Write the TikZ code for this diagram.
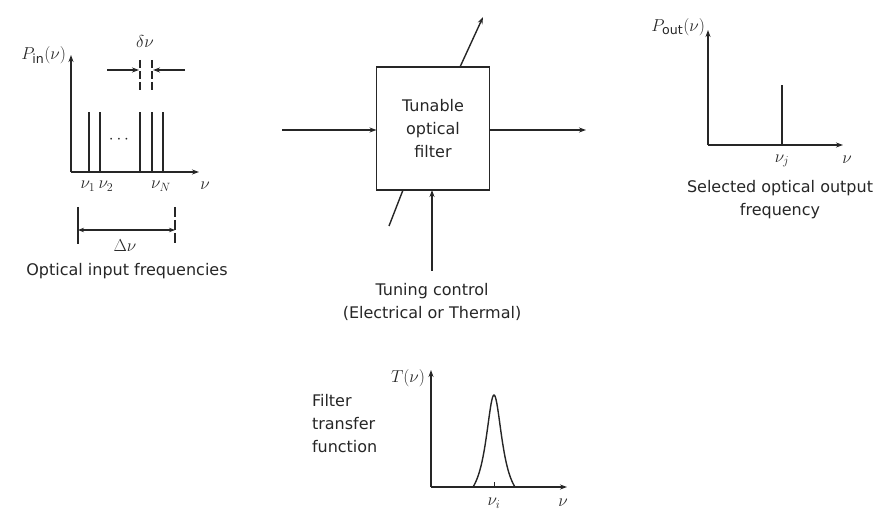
\documentclass[tikz,border=0pt]{standalone}
\usepackage{fontspec}
\setmainfont{DejaVu Sans}
\usetikzlibrary{arrows.meta}
\begin{document}
\begin{tikzpicture}[x=1pt,y=-1pt,
  every node/.style={inner sep=0pt,outer sep=0pt},
  ln/.style={line width=1.4pt,black!85},
  arr/.style={ln,-{Stealth[length=7pt,width=5pt]}},
  darr/.style={ln,{Stealth[length=6pt,width=4.5pt]}-{Stealth[length=6pt,width=4.5pt]}},
  lbl/.style={font=\fontsize{16}{22}\selectfont,text=black!85},
  mlbl/.style={font=\fontsize{18}{20}\selectfont,text=black!85},
  boxst/.style={draw,line width=1.4pt,black!85,minimum width=113pt,minimum height=123pt,align=center,font=\fontsize{16}{23}\selectfont}
]
\useasboundingbox (0,0) rectangle (885,510);

% ---------- left graph: input spectrum
\coordinate (o1) at (71,172);
\coordinate (y1) at (71,55);
\coordinate (x1) at (199,172);
\draw[arr] (o1) -- (y1);
\draw[arr] (o1) -- (x1);
\foreach \xx in {89,100,140,152,163}{
  \draw[ln] (\xx,172) -- (\xx,112);
}
\node[mlbl] (dots) at (119,140) {$\cdots$};
\node[mlbl,anchor=south east] (pin) at (66,64) {$P_{\mathrm{in}}(\nu)$};
% delta nu marker
\coordinate (dl0) at (107,70); \coordinate (dl1) at (139,70);
\coordinate (dr0) at (185,70); \coordinate (dr1) at (153,70);
\draw[arr] (dl0) -- (dl1);
\draw[arr] (dr0) -- (dr1);
\draw[ln,dashed,dash pattern=on 8pt off 3pt] (140,60) -- (140,92);
\draw[ln,dashed,dash pattern=on 8pt off 3pt] (152,60) -- (152,92);
\node[mlbl] (dnu) at (145,42) {$\delta\nu$};
\node[mlbl] (n1) at (88,186) {$\nu_1$};
\node[mlbl] (n2) at (106,186) {$\nu_2$};
\node[mlbl] (nN) at (161,186) {$\nu_N$};
\node[mlbl] (nx1) at (205,186) {$\nu$};
% Delta nu bracket
\draw[ln] (78,207) -- (78,244);
\draw[ln,dashed,dash pattern=on 10pt off 3pt] (175,207) -- (175,244);
\coordinate (Dl) at (78,230); \coordinate (Dr) at (175,230);
\draw[darr] (Dl) -- (Dr);
\node[mlbl] (Dnu) at (125,246) {$\Delta\nu$};
\node[lbl] (inlbl) at (127,271) {Optical input frequencies};

% ---------- center: filter box
\node[boxst] (filter) at (433,128.5) {Tunable\\optical\\filter};
\coordinate (inA) at (282,130);
\coordinate (outB) at (586,130);
\draw[arr] (inA) -- (inA -| filter.west);
\draw[arr] (outB -| filter.east) -- (outB);
\coordinate (tA) at (460,67);
\coordinate (tB) at (483,17);
\draw[arr] (tA) -- (tB);
\coordinate (bA) at (403,190);
\coordinate (bB) at (389,226);
\draw[ln] (bA) -- (bB);
\coordinate (tc) at (432,271);
\draw[arr] (tc) -- (tc |- filter.south);
\node[lbl] (tun1) at (432,291) {Tuning control};
\node[lbl] (tun2) at (432,313) {(Electrical or Thermal)};

% ---------- right graph: output spectrum
\coordinate (o2) at (708,145);
\coordinate (y2) at (708,30);
\coordinate (x2) at (843,145);
\draw[arr] (o2) -- (y2);
\draw[arr] (o2) -- (x2);
\draw[ln] (782,145) -- (782,85);
\node[mlbl,anchor=south east] (pout) at (705,36) {$P_{\mathrm{out}}(\nu)$};
\node[mlbl] (nj) at (782,161) {$\nu_j$};
\node[mlbl] (nx2) at (847,160) {$\nu$};
\node[lbl] (outl1) at (780,188) {Selected optical output};
\node[lbl] (outl2) at (780,211) {frequency};

% ---------- bottom graph: filter transfer function
\coordinate (o3) at (431,487);
\coordinate (y3) at (431,370);
\coordinate (x3) at (567,487);
\draw[arr] (o3) -- (y3);
\draw[arr] (o3) -- (x3);
\draw[ln,smooth] plot[domain=-21:21,samples=61]
  ({494+\x},{487-92*((1/(1+(\x/10)^2))-0.185)/0.815});
\draw[line width=0.8pt,black!85] (494,487) -- (494,482);
\node[mlbl,anchor=east] (tnu) at (425,378) {$T(\nu)$};
\node[mlbl] (ni) at (494,503) {$\nu_i$};
\node[mlbl] (nx3) at (563,503) {$\nu$};
\node[lbl,align=left,anchor=north west,font=\fontsize{16}{23}\selectfont] (ftf) at (312,394) {Filter\\transfer\\function};
\end{tikzpicture}
\end{document}
